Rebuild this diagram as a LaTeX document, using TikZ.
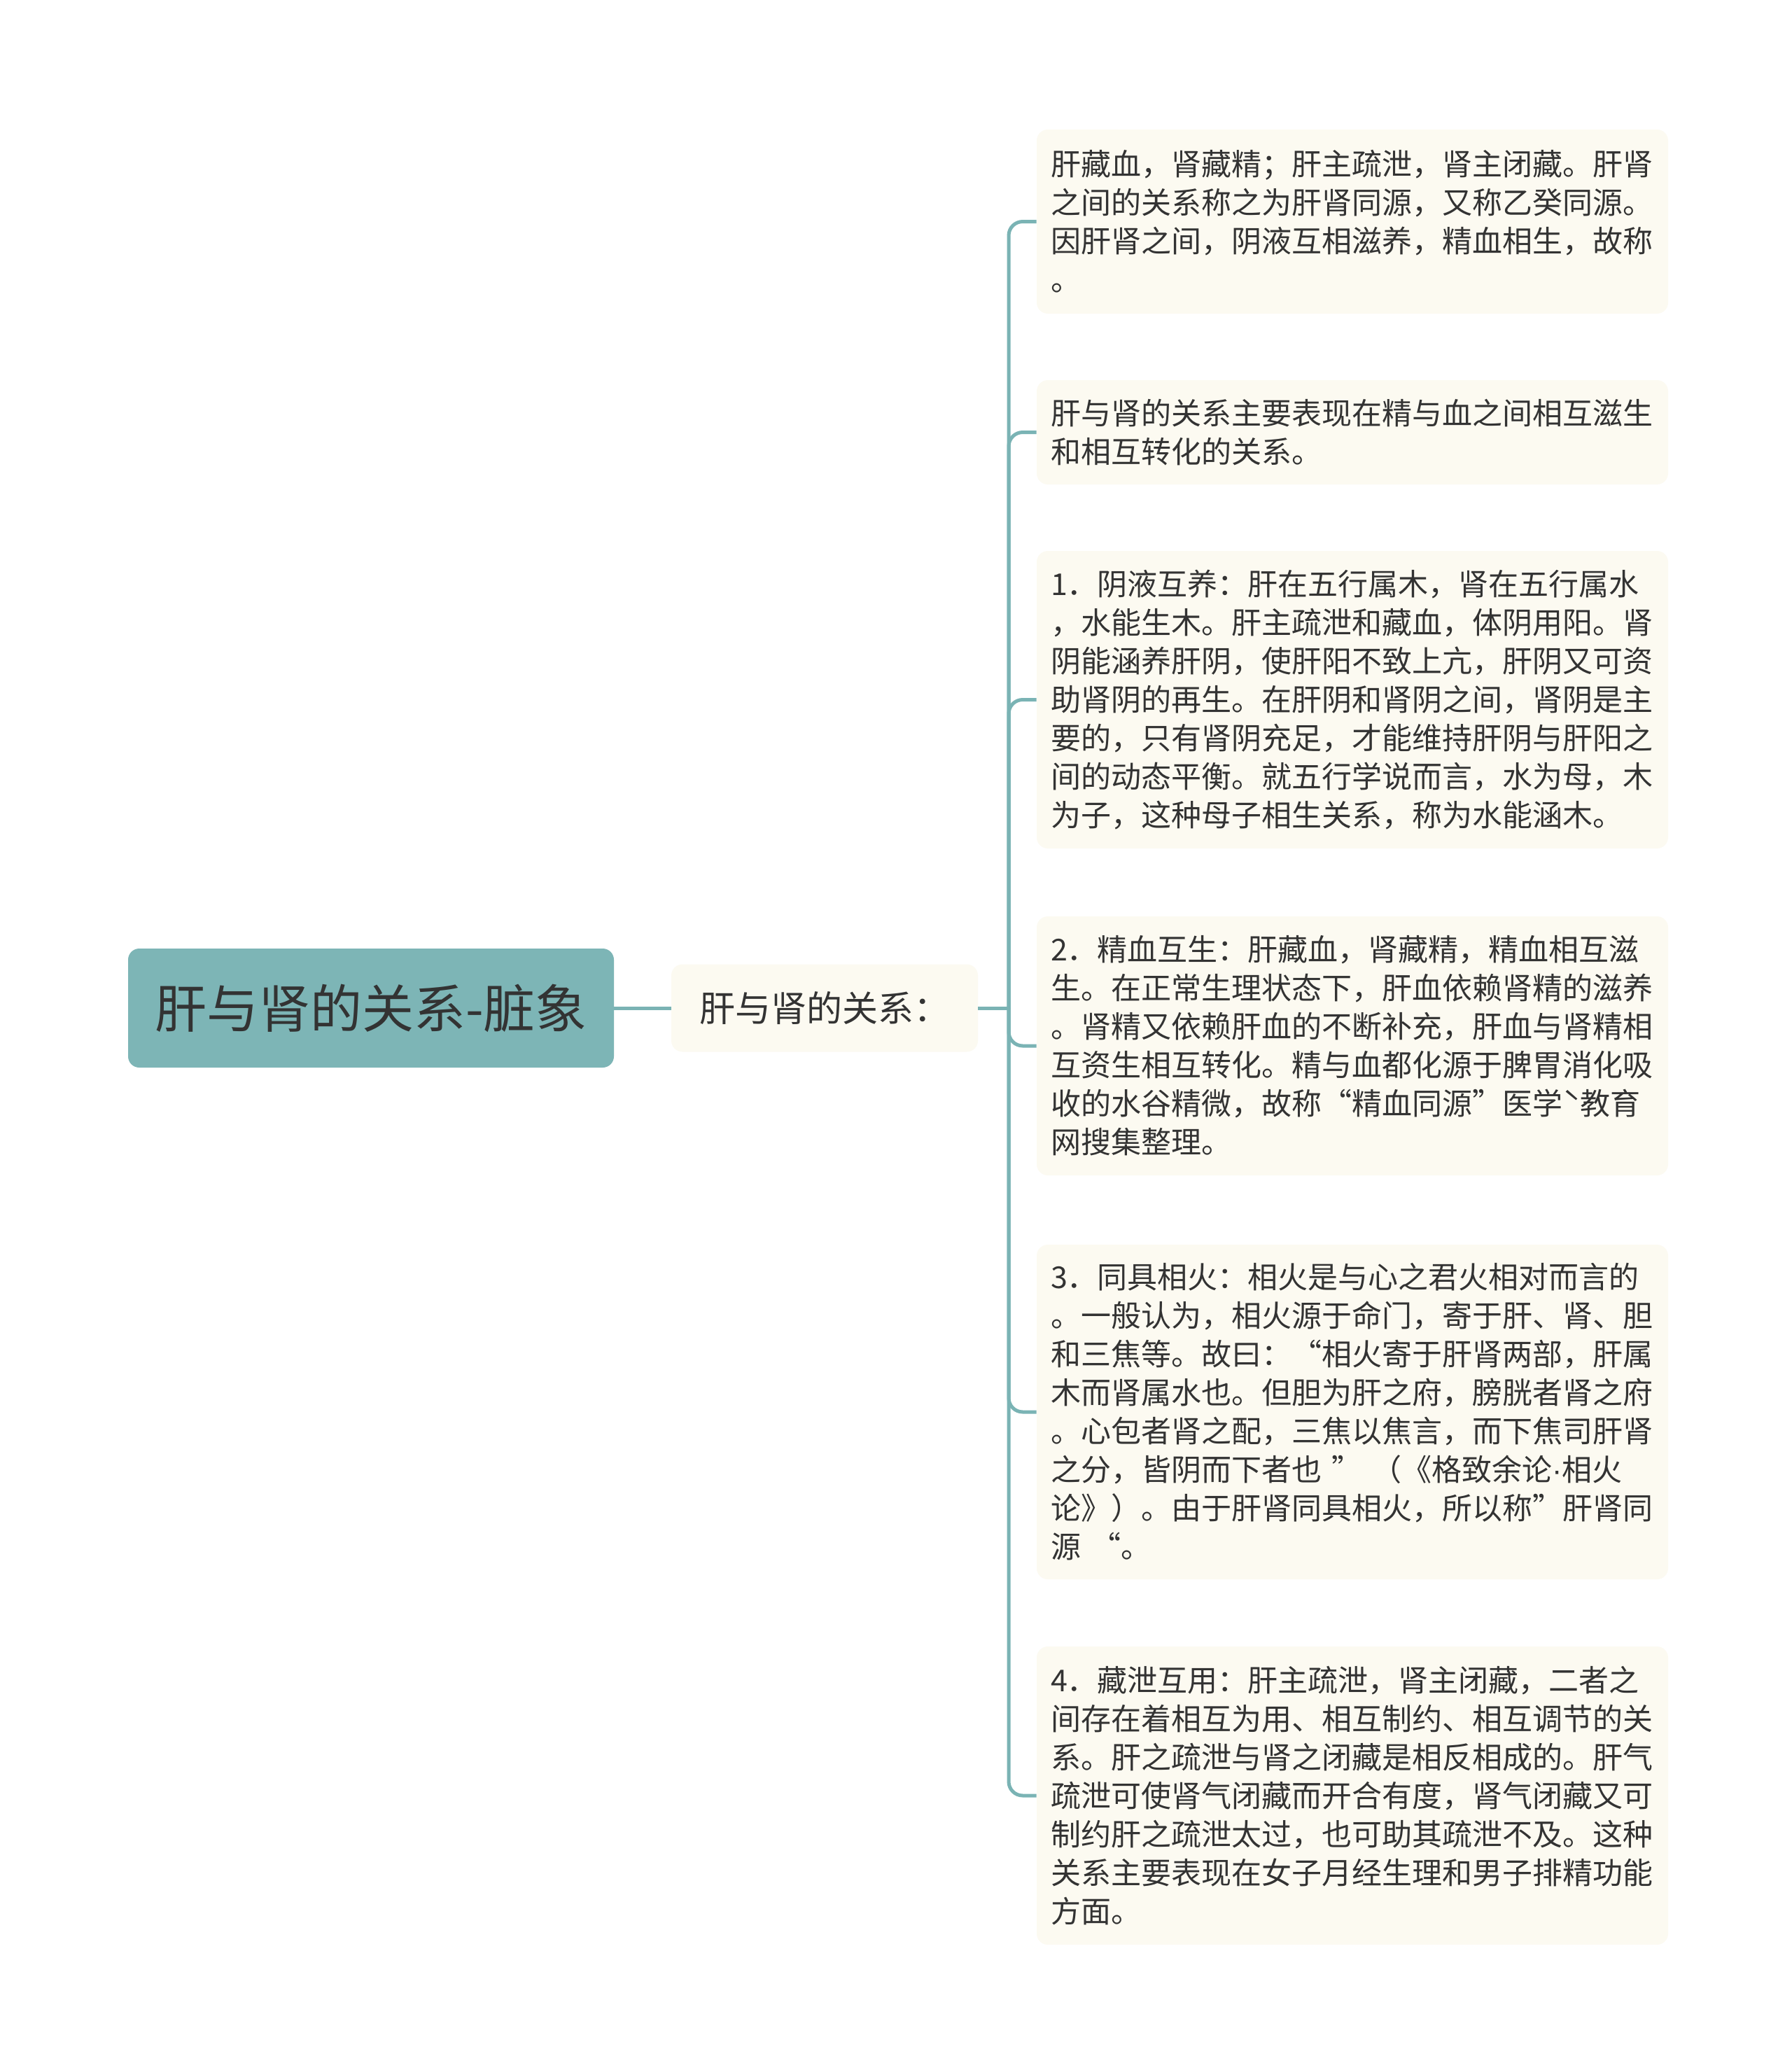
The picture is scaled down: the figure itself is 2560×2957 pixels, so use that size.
\documentclass[tikz,border=0pt]{standalone}
\usepackage{fontspec}
\setmainfont{Noto Sans CJK SC}
\newfontfamily\latinfont{Liberation Sans}
\usepackage{tikz}
\usetikzlibrary{positioning,calc}
\definecolor{tealline}{HTML}{7AB3B4}
\definecolor{rootfill}{HTML}{7DB5B6}
\definecolor{leaffill}{HTML}{FCFAF1}
\definecolor{inktext}{HTML}{333333}

\begin{document}
\begin{tikzpicture}[x=0.5pt,y=-0.5pt,
            link/.style={draw=tealline,line width=2.5pt},
            rootbox/.style={fill=rootfill,rounded corners=8pt,text=inktext,
                font=\fontsize{37}{44}\selectfont,minimum width=347pt,minimum height=85pt},
            midbox/.style={fill=leaffill,rounded corners=8pt,text=inktext,
                font=\fontsize{25.5}{30}\selectfont,minimum width=219pt,minimum height=62.5pt},
            leaf/.style={fill=leaffill,rounded corners=8pt,text=inktext,align=left,
                font=\fontsize{21.5}{27.5}\selectfont,text width=431pt,inner xsep=10pt,inner ysep=0pt}
        ]
            \fill[white] (0,0) rectangle (2560,2957);
            % main topic and the one branch
            \node[rootbox] (root) at (530,1440) {肝与肾的关系-脏象};
            \node[midbox] (rel) at (1178,1440) {肝与肾的关系：};
            \coordinate (fork) at (1441,1440);
            % leaves
            \node[leaf,minimum height=131.5pt] (c1) at (1932,316.5) {肝藏血，肾藏精；肝主疏泄，肾主闭藏。肝肾\\之间的关系称之为肝肾同源，又称乙癸同源。\\因肝肾之间，阴液互相滋养，精血相生，故称\\。};
            \node[leaf,minimum height=74.5pt] (c2) at (1932,617.5) {肝与肾的关系主要表现在精与血之间相互滋生\\和相互转化的关系。};
            \node[leaf,minimum height=212.5pt] (c3) at (1932,999.5) {1．阴液互养：肝在五行属木，肾在五行属水\\，水能生木。肝主疏泄和藏血，体阴用阳。肾\\阴能涵养肝阴，使肝阳不致上亢，肝阴又可资\\助肾阴的再生。在肝阴和肾阴之间，肾阴是主\\要的，只有肾阴充足，才能维持肝阴与肝阳之\\间的动态平衡。就五行学说而言，水为母，木\\为子，这种母子相生关系，称为水能涵木。};
            \node[leaf,minimum height=185pt] (c4) at (1932,1494) {2．精血互生：肝藏血，肾藏精，精血相互滋\\生。在正常生理状态下，肝血依赖肾精的滋养\\。肾精又依赖肝血的不断补充，肝血与肾精相\\互资生相互转化。精与血都化源于脾胃消化吸\\收的水谷精微，故称“精血同源”医学ˋ教育\\网搜集整理。};
            \node[leaf,minimum height=239pt] (c5) at (1932,2017) {3．同具相火：相火是与心之君火相对而言的\\。一般认为，相火源于命门，寄于肝、肾、胆\\和三焦等。故曰：“相火寄于肝肾两部，肝属\\木而肾属水也。但胆为肝之府，膀胱者肾之府\\。心包者肾之配，三焦以焦言，而下焦司肝肾\\之分，皆阴而下者也 ” （《格致余论{\latinfont ·}相火\\论》）。由于肝肾同具相火，所以称”肝肾同\\源 “。};
            \node[leaf,minimum height=213pt] (c6) at (1932,2565) {4．藏泄互用：肝主疏泄，肾主闭藏，二者之\\间存在着相互为用、相互制约、相互调节的关\\系。肝之疏泄与肾之闭藏是相反相成的。肝气\\疏泄可使肾气闭藏而开合有度，肾气闭藏又可\\制约肝之疏泄太过，也可助其疏泄不及。这种\\关系主要表现在女子月经生理和男子排精功能\\方面。};
            % connectors
            \draw[link] (root.east) -- (rel.west);
            \draw[link] (rel.east) -- (fork);
            \foreach \n in {c1,c2,c3,c4,c5,c6} {
                \draw[link,rounded corners=10pt] (fork) |- (\n.west);
            }
        \end{tikzpicture}
\end{document}
